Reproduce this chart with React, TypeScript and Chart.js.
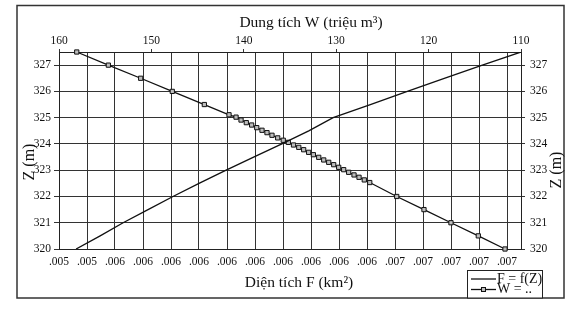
import React, { useEffect, useRef } from "react";
import { Chart, registerables } from "chart.js";

Chart.register(...registerables);

// ---- Data ----
// F = f(Z): water surface area (km²) at reservoir level Z (m)
const zLevelsF = [320, 320.5, 321, 321.5, 322, 322.5, 323, 323.5, 324, 324.5, 325, 325.5, 326, 326.5, 327, 327.5];
const areaF = [0.005361, 0.005447, 0.005529, 0.005618, 0.005707, 0.0058, 0.005897, 0.005995, 0.006096, 0.006192, 0.006279, 0.006412, 0.006544, 0.006676, 0.006812, 0.00695];

// W: storage volume (million m³) at reservoir level Z (m)
const zLevelsW = [
  327.5, 327, 326.5, 326, 325.5,
  325.11, 325.02, 324.91, 324.81, 324.72, 324.62, 324.52, 324.43, 324.33, 324.23,
  324.14, 324.06, 323.96, 323.87, 323.78, 323.68, 323.59, 323.49, 323.39, 323.3,
  323.21, 323.11, 323.02, 322.92, 322.82, 322.73, 322.63, 322.53,
  322, 321.5, 321, 320.5, 320,
];
const volumeW = [
  158.08, 154.66, 151.16, 147.74, 144.27,
  141.6, 140.84, 140.3, 139.73, 139.15, 138.6, 138.03, 137.49, 136.95, 136.33,
  135.73, 135.18, 134.62, 134.05, 133.52, 132.98, 132.47, 131.89, 131.35, 130.81,
  130.27, 129.73, 129.19, 128.65, 128.07, 127.53, 126.96, 126.37,
  123.45, 120.5, 117.58, 114.62, 111.73,
];

// Axis ranges / ticks
const zRange = [320, 327.5];
const zStep = 1;
const fRange = [0.0053, 0.00695];
const fStep = 0.0001;
const wRange = [110, 160];
const wStep = 10;

// Texts
const titleW = "Dung tích W (triệu m³)";
const titleF = "Diện tích F (km²)";
const titleZ = "Z (m)";
const labelF = "F = f(Z)";
const labelW = "W = ..";

const SERIF = '"Liberation Serif", "Times New Roman", serif';
const INK = "#111";
const GRID = "#333";

export default function App() {
  const ref = useRef<HTMLCanvasElement>(null);

  useEffect(() => {
    const canvas = ref.current;
    if (!canvas) return;

    const overlay = {
      id: "overlay",
      beforeDraw(chart: any) {
        const ctx = chart.ctx;
        ctx.save();
        ctx.fillStyle = "#fff";
        ctx.fillRect(0, 0, chart.width, chart.height);
        ctx.restore();
      },
      afterDraw(chart: any) {
        const ctx = chart.ctx as CanvasRenderingContext2D;
        ctx.save();
        // outer frame
        ctx.strokeStyle = "#333";
        ctx.lineWidth = 1.5;
        ctx.strokeRect(17, 5.5, 547, 292.5);

        // axis titles
        ctx.fillStyle = INK;
        ctx.textAlign = "center";
        ctx.textBaseline = "middle";
        ctx.font = `15.5px ${SERIF}`;
        ctx.fillText(titleW, 311, 23);
        ctx.fillText(titleF, 299, 283);
        ctx.font = `16px ${SERIF}`;
        const zPos: [number, number][] = [
          [30, 162],
          [557, 170],
        ];
        for (const [x, y] of zPos) {
          ctx.save();
          ctx.translate(x, y);
          ctx.rotate(-Math.PI / 2);
          ctx.fillText(titleZ, 0, 0);
          ctx.restore();
        }

        // legend
        const ds = chart.data.datasets;
        ctx.fillStyle = "#fff";
        ctx.fillRect(467, 270, 76, 28);
        ctx.strokeStyle = "#222";
        ctx.lineWidth = 1;
        ctx.strokeRect(467.5, 270.5, 75, 27.5);
        const rows = [
          { y: 279, d: ds[0] },
          { y: 289.5, d: ds[1] },
        ];
        ctx.font = `14px ${SERIF}`;
        ctx.textAlign = "left";
        for (const r of rows) {
          ctx.strokeStyle = r.d.borderColor;
          ctx.lineWidth = r.d.borderWidth;
          ctx.beginPath();
          ctx.moveTo(471, r.y);
          ctx.lineTo(496, r.y);
          ctx.stroke();
          if (r.d.pointRadius > 0) {
            ctx.fillStyle = r.d.pointBackgroundColor;
            ctx.strokeStyle = r.d.pointBorderColor;
            ctx.lineWidth = 1;
            ctx.fillRect(481.5, r.y - 2, 4, 4);
            ctx.strokeRect(481.5, r.y - 2, 4, 4);
          }
          ctx.fillStyle = INK;
          ctx.fillText(r.d.label, 497, r.y);
        }
        ctx.restore();
      },
    };

    const tickFont = { family: SERIF, size: 11.5 };

    const chart = new Chart(canvas, {
      type: "scatter",
      data: {
        datasets: [
          {
            label: labelF,
            data: zLevelsF.map((z, i) => ({ x: areaF[i], y: z })),
            xAxisID: "x",
            yAxisID: "y",
            showLine: true,
            borderColor: INK,
            borderWidth: 1.3,
            pointRadius: 0,
            fill: false,
          },
          {
            label: labelW,
            data: zLevelsW.map((z, i) => ({ x: volumeW[i], y: z })),
            xAxisID: "x2",
            yAxisID: "y2",
            showLine: true,
            borderColor: INK,
            borderWidth: 1.3,
            pointStyle: "rect",
            pointRadius: 3,
            pointBackgroundColor: "#bdbdbd",
            pointBorderColor: INK,
            pointBorderWidth: 1,
            clip: false,
            fill: false,
          },
        ] as any,
      },
      options: {
        responsive: false,
        animation: false,
        events: [],
        layout: { padding: 0 },
        plugins: {
          legend: { display: false },
          tooltip: { enabled: false },
          title: { display: false },
        },
        scales: {
          x: {
            type: "linear",
            position: "bottom",
            min: fRange[0],
            max: fRange[1],
            afterFit: (s: any) => {
              s.height = 61;
            },
            grid: { color: GRID, lineWidth: 1, drawTicks: false },
            border: { display: true, color: "#222", width: 1 },
            ticks: {
              stepSize: fStep,
              includeBounds: false,
              padding: 6,
              autoSkip: false,
              maxRotation: 0,
              color: INK,
              font: tickFont,
              callback: (v: any) => {
                const r = Math.round(Number(v) * 1000 + 1e-7) / 1000;
                return r.toFixed(3).replace(/^0/, "");
              },
            },
          },
          x2: {
            type: "linear",
            axis: "x",
            position: "top",
            reverse: true,
            min: wRange[0],
            max: wRange[1],
            afterFit: (s: any) => {
              s.height = 52;
            },
            grid: { drawOnChartArea: false, drawTicks: true, tickLength: 3, color: "#333" },
            border: { display: true, color: "#222", width: 1 },
            ticks: {
              stepSize: wStep,
              padding: 1,
              maxRotation: 0,
              color: INK,
              font: tickFont,
            },
          },
          y: {
            type: "linear",
            position: "left",
            min: zRange[0],
            max: zRange[1],
            afterFit: (s: any) => {
              s.width = 59;
            },
            grid: { color: GRID, lineWidth: 1, drawTicks: true, tickLength: 5 },
            border: { display: true, color: "#222", width: 1 },
            ticks: {
              stepSize: zStep,
              includeBounds: false,
              padding: 3,
              color: INK,
              font: tickFont,
            },
          },
          y2: {
            type: "linear",
            axis: "y",
            position: "right",
            min: zRange[0],
            max: zRange[1],
            afterFit: (s: any) => {
              s.width = 54;
            },
            grid: { drawOnChartArea: false, drawTicks: true, tickLength: 4, color: "#333" },
            border: { display: true, color: "#222", width: 1 },
            ticks: {
              stepSize: zStep,
              includeBounds: false,
              padding: 5,
              color: INK,
              font: tickFont,
            },
          },
        },
      } as any,
      plugins: [overlay],
    });

    return () => chart.destroy();
  }, []);

  return (
    <div style={{ position: "absolute", left: 0, top: 0, width: 575, height: 310, background: "#fff" }}>
      <canvas ref={ref} width={575} height={310} style={{ display: "block", width: 575, height: 310 }} />
    </div>
  );
}
